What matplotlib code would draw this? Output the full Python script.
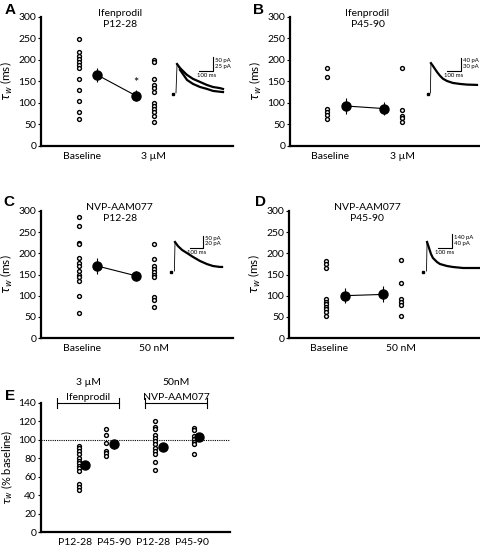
import matplotlib
matplotlib.use("Agg")
import matplotlib.pyplot as plt
import numpy as np

plt.rcParams['font.family'] = ['Lato', 'DejaVu Sans']
plt.rcParams['font.size'] = 7
plt.rcParams['mathtext.fontset'] = 'dejavusans'

# ---- data ----
conds_ifen = ["Baseline", "3 \u00b5M"]
conds_nvp = ["Baseline", "50 nM"]

A_base = [248, 218, 210, 202, 196, 188, 181, 155, 130, 105, 78, 62]
A_drug = [200, 195, 156, 142, 136, 126, 99, 94, 86, 78, 70, 55]
A_mean = [165, 117]
A_sem = [17, 13]

B_base = [181, 160, 87, 80, 72, 63]
B_drug = [181, 83, 70, 66, 56]
B_mean = [93, 87]
B_sem = [19, 16]

C_base = [285, 265, 225, 221, 188, 177, 170, 158, 150, 143, 135, 100, 60]
C_drug = [222, 187, 170, 163, 157, 150, 143, 96, 90, 73]
C_mean = [170, 147]
C_sem = [19, 12]

D_base = [182, 175, 166, 92, 86, 80, 74, 68, 62, 53]
D_drug = [185, 129, 92, 86, 78, 53]
D_mean = [100, 103]
D_sem = [17, 19]

E_labels = ["P12-28", "P45-90", "P12-28", "P45-90"]
E_ifen_young = [93, 91, 88, 85, 80, 77, 75, 72, 69, 66, 52, 49, 46]
E_ifen_adult = [112, 105, 97, 88, 86, 83]
E_nvp_young = [121, 114, 112, 105, 102, 99, 96, 91, 88, 85, 76, 67]
E_nvp_adult = [113, 111, 104, 101, 98, 95, 85]
E_means = [73, 95, 92, 103]
E_sems = [4, 5, 4, 3]

# example EPSC traces (time in ms, current in pA above baseline)
trA_t1 = [22, 30, 52, 74, 104, 148, 200, 252, 296, 348, 370]
trA_i1 = [4, 107, 93, 82, 68, 54, 43, 32, 25, 21, 18]
trA_t2 = [30, 52, 74, 104, 148, 200, 252, 296, 348, 370]
trA_i2 = [107, 86, 71, 50, 36, 25, 18, 11, 8, 7]
trB_t = [17, 21, 36, 64, 86, 107, 136, 178, 228, 278, 350]
trB_i = [3, 95, 86, 68, 56, 47, 40, 34, 31, 29, 28]
trC_t = [26, 31, 54, 85, 123, 169, 223, 277, 323, 377, 393]
trC_i = [4, 125, 108, 92, 79, 63, 46, 33, 25, 21, 21]
trD_t = [25, 29, 43, 57, 71, 100, 121, 171, 214, 286, 357, 407]
trD_i = [10, 300, 240, 180, 140, 100, 80, 60, 50, 40, 40, 40]

W, H = 481, 546
fig = plt.figure(figsize=(W / 100, H / 100), dpi=100)


def px_axes(l, t, r, b):
    return fig.add_axes([l / W, 1 - b / H, (r - l) / W, (b - t) / H])


def style(ax):
    for s in ['top', 'right']:
        ax.spines[s].set_visible(False)
    for s in ['left', 'bottom']:
        ax.spines[s].set_linewidth(1.6)
    ax.tick_params(axis='y', length=2.5, width=0.8, pad=1, labelsize=7.5)
    ax.tick_params(axis='x', length=0, pad=4, labelsize=7.5)


def open_dots(ax, x, vals):
    ax.plot([x] * len(vals), vals, 'o', mfc='white', mec='k', ms=2.8, mew=1.0)


def scatter_panel(ax, base, drug, mean, sem, conds, title, xmax):
    open_dots(ax, 1, base)
    open_dots(ax, 3, drug)
    ax.errorbar([1.5, 2.52], mean, yerr=sem, fmt='o-', color='k', ms=6.5,
                lw=0.8, elinewidth=0.8, capsize=0)
    ax.set_xlim(0, xmax)
    ax.set_ylim(0, 300)
    ax.set_yticks([0, 50, 100, 150, 200, 250, 300])
    ax.set_xticks([1.08, 3.0])
    ax.set_xticklabels(conds)
    ax.set_ylabel(r'$\tau_w$ (ms)', fontsize=8.5, labelpad=2)
    ax.text(0.41, 0.985, title, transform=ax.transAxes, ha='center',
            va='center', fontsize=7.5, linespacing=1.3)
    style(ax)


def inset(ox, oy, mspp, papp, traces, bar_t, bar_i, bar_ms, bar_pa, labels):
    ax = px_axes(ox - 10, oy - 45, ox + 58, oy + 6)
    ax.set_xlim(-10 * mspp, 58 * mspp)
    ax.set_ylim(-6 * papp, 45 * papp)
    ax.axis('off')
    ax.plot([0], [0], 's', color='k', ms=1.6)
    for t, i in traces:
        ax.plot(t[:2], i[:2], color='k', lw=0.6)
        ax.plot(t[1:], i[1:], color='k', lw=1.6, solid_joinstyle='round')
    ax.plot([bar_t - bar_ms, bar_t, bar_t], [bar_i, bar_i, bar_i + bar_pa],
            color='k', lw=0.8)
    ax.text(bar_t + 2 * mspp, bar_i + bar_pa * 0.78, labels[0], fontsize=4.3,
            va='center', ha='left')
    ax.text(bar_t + 2 * mspp, bar_i + bar_pa * 0.35, labels[1], fontsize=4.3,
            va='center', ha='left')
    ax.text(bar_t - bar_ms / 2, bar_i - 4.5 * papp, labels[2], fontsize=4.3,
            va='center', ha='center')


# ---- A ----
axA = px_axes(41, 17, 233, 146)
scatter_panel(axA, A_base, A_drug, A_mean, A_sem, conds_ifen,
              "Ifenprodil\nP12-28", 5.1)
axA.text(2.52, 146, '*', ha='center', va='center', fontsize=9)
inset(173, 94, 7.4, 3.57, [(trA_t1, trA_i1), (trA_t2, trA_i2)],
      296, 82, 100, 50, ["50 pA", "25 pA", "100 ms"])

# ---- B ----
axB = px_axes(290, 17, 479, 146)
scatter_panel(axB, B_base, B_drug, B_mean, B_sem, conds_ifen,
              "Ifenprodil\nP45-90", 5.05)
inset(428, 94, 7.14, 3.08, [(trB_t, trB_i)],
      236, 71, 100, 40, ["40 pA", "30 pA", "100 ms"])

# ---- C ----
axC = px_axes(41, 211, 233, 338)
scatter_panel(axC, C_base, C_drug, C_mean, C_sem, conds_nvp,
              "NVP-AAM077\nP12-28", 5.1)
inset(171, 272, 7.7, 4.17, [(trC_t, trC_i)],
      246, 100, 100, 50, ["50 pA", "20 pA", "100 ms"])

# ---- D ----
axD = px_axes(289, 211, 479, 338)
scatter_panel(axD, D_base, D_drug, D_mean, D_sem, conds_nvp,
              "NVP-AAM077\nP45-90", 5.07)
inset(423, 272, 7.14, 10, [(trD_t, trD_i)],
      207, 240, 100, 140, ["140 pA", "40 pA", "100 ms"])

# ---- E ----
axE = px_axes(41, 403, 230, 532)
E_groups = [E_ifen_young, E_ifen_adult, E_nvp_young, E_nvp_adult]
circ_off = [0.1, -0.2, 0.05, 0.05]
mean_off = [0.25, 0.0, 0.25, 0.18]
axE.axhline(100, color='k', lw=0.8, ls=(0, (1, 1)))
for i, g in enumerate(E_groups):
    x = i + 1
    open_dots(axE, x + circ_off[i], g)
    axE.errorbar([x + mean_off[i]], [E_means[i]], yerr=[E_sems[i]], fmt='o',
                 color='k', ms=6.5, elinewidth=0.8, capsize=0)
axE.set_xlim(0.13, 4.97)
axE.set_ylim(0, 140)
axE.set_yticks(range(0, 141, 20))
axE.set_xticks([1, 2, 3, 4])
axE.set_xticklabels(E_labels)
axE.set_ylabel(r'$\tau_w$ (% baseline)', fontsize=8, labelpad=2)
style(axE)
for (x0, x1, l1, l2) in [(0.54, 2.13, "3 \u00b5M", "Ifenprodil"),
                         (2.79, 4.38, "50nM", "NVP-AAM077")]:
    axE.plot([x0, x1], [140, 140], color='k', lw=0.8, clip_on=False)
    for xx in (x0, x1):
        axE.plot([xx, xx], [135, 145], color='k', lw=0.8, clip_on=False)
    axE.text((x0 + x1) / 2, 162, l1, ha='center', va='center', fontsize=7.5)
    axE.text((x0 + x1) / 2, 145.5, l2, ha='center', va='center', fontsize=7.5)

# panel letters
for lab, x, y in [("A", 10, 10), ("B", 259, 10), ("C", 9, 202),
                  ("D", 260, 202), ("E", 10, 396)]:
    fig.text(x / W, 1 - y / H, lab, fontsize=11, fontweight='bold',
             ha='center', va='center', family='Liberation Sans')

fig.savefig("out.png", dpi=100)
